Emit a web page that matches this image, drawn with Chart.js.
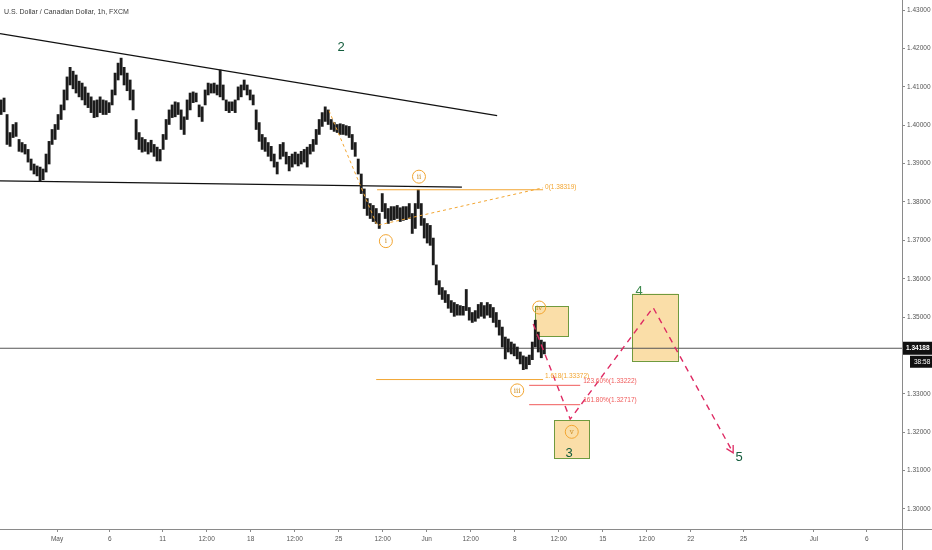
<!DOCTYPE html>
<html>
<head>
<meta charset="utf-8">
<title>USDCAD 1h</title>
<script src="https://cdn.jsdelivr.net/npm/chart.js@4/dist/chart.umd.min.js"></script>
<style>
  html, body { margin: 0; padding: 0; background: #fff; }
</style>
</head>
<body>
<canvas id="usdcad" width="932" height="550"></canvas>
<script>
// x unit = trading days counted from Fri May 1 00:00 (weekends skipped, like TradingView)
const xTickDays   = [0, 3, 6, 8.5, 11, 13.5, 16, 18.5, 21, 23.5, 26, 28.5, 31, 33.5, 36, 39, 43, 46];
const xTickLabels = ['May', '6', '11', '12:00', '18', '12:00', '25', '12:00', 'Jun', '12:00', '8', '12:00', '15', '12:00', '22', '25', 'Jul', '6'];
const yTicks = [1.30, 1.31, 1.32, 1.33, 1.35, 1.36, 1.37, 1.38, 1.39, 1.40, 1.41, 1.42, 1.43];

// price bars, roughly 4h apart
const barStartDay = -3.18;
const barStep = 0.1705;
const barHigh = [
  1.4066, 1.4071, 1.4028, 1.3981, 1.4002, 1.4007, 1.3963, 1.3955, 1.3950, 1.3937,
  1.3912, 1.3899, 1.3894, 1.3891, 1.3886, 1.3925, 1.3958, 1.3989, 1.4002, 1.4028,
  1.4053, 1.4092, 1.4126, 1.4151, 1.4141, 1.4131, 1.4115, 1.4110, 1.4100, 1.4084,
  1.4074, 1.4064, 1.4066, 1.4074, 1.4066, 1.4064, 1.4059, 1.4092, 1.4136, 1.4162,
  1.4175, 1.4151, 1.4136, 1.4118, 1.4092, 1.4015, 1.3981, 1.3968, 1.3963, 1.3955,
  1.3961, 1.3950, 1.3943, 1.3937, 1.3976, 1.4015, 1.4040, 1.4053, 1.4061, 1.4059,
  1.4040, 1.4022, 1.4066, 1.4084, 1.4087, 1.4084, 1.4053, 1.4048, 1.4092, 1.4110,
  1.4108, 1.4110, 1.4105, 1.4144, 1.4105, 1.4066, 1.4061, 1.4061, 1.4066, 1.4100,
  1.4105, 1.4118, 1.4105, 1.4092, 1.4079, 1.4040, 1.4007, 1.3976, 1.3968, 1.3955,
  1.3945, 1.3925, 1.3904, 1.3950, 1.3955, 1.3930, 1.3919, 1.3925, 1.3930, 1.3925,
  1.3932, 1.3937, 1.3943, 1.3950, 1.3963, 1.3989, 1.4015, 1.4033, 1.4048, 1.4040,
  1.4015, 1.4007, 1.4002, 1.4004, 1.4002, 1.3999, 1.3997, 1.3976, 1.3955, 1.3912,
  1.3873, 1.3834, 1.3809, 1.3796, 1.3791, 1.3783, 1.3770, 1.3822, 1.3796, 1.3783,
  1.3788, 1.3788, 1.3791, 1.3785, 1.3788, 1.3788, 1.3796, 1.3770, 1.3796, 1.3832,
  1.3796, 1.3757, 1.3744, 1.3739, 1.3706, 1.3636, 1.3595, 1.3577, 1.3569, 1.3559,
  1.3543, 1.3538, 1.3533, 1.3530, 1.3528, 1.3572, 1.3525, 1.3512, 1.3517, 1.3533,
  1.3538, 1.3530, 1.3538, 1.3533, 1.3525, 1.3512, 1.3492, 1.3474, 1.3448, 1.3443,
  1.3435, 1.3430, 1.3422, 1.3409, 1.3399, 1.3396, 1.3401, 1.3435, 1.3492, 1.3461,
  1.3440, 1.3435
];
const barLow = [
  1.4028, 1.4035, 1.3950, 1.3945, 1.3968, 1.3971, 1.3932, 1.3930, 1.3925, 1.3904,
  1.3883, 1.3873, 1.3868, 1.3855, 1.3858, 1.3878, 1.3899, 1.3950, 1.3963, 1.3989,
  1.4015, 1.4040, 1.4066, 1.4105, 1.4095, 1.4084, 1.4074, 1.4066, 1.4053, 1.4046,
  1.4033, 1.4020, 1.4022, 1.4033, 1.4028, 1.4028, 1.4033, 1.4053, 1.4079, 1.4118,
  1.4131, 1.4105, 1.4090, 1.4066, 1.4040, 1.3963, 1.3937, 1.3930, 1.3932, 1.3925,
  1.3930, 1.3919, 1.3907, 1.3907, 1.3937, 1.3963, 1.4002, 1.4020, 1.4022, 1.4028,
  1.3989, 1.3976, 1.4015, 1.4040, 1.4059, 1.4061, 1.4022, 1.4010, 1.4053, 1.4079,
  1.4084, 1.4084, 1.4079, 1.4074, 1.4066, 1.4038, 1.4033, 1.4038, 1.4033, 1.4066,
  1.4074, 1.4092, 1.4079, 1.4066, 1.4053, 1.3989, 1.3958, 1.3937, 1.3932, 1.3919,
  1.3907, 1.3891, 1.3873, 1.3912, 1.3919, 1.3899, 1.3881, 1.3891, 1.3899, 1.3894,
  1.3899, 1.3904, 1.3891, 1.3925, 1.3932, 1.3950, 1.3976, 1.3997, 1.4010, 1.4002,
  1.3989, 1.3984, 1.3981, 1.3976, 1.3976, 1.3974, 1.3968, 1.3937, 1.3919, 1.3873,
  1.3822, 1.3783, 1.3765, 1.3757, 1.3749, 1.3744, 1.3731, 1.3775, 1.3757, 1.3744,
  1.3752, 1.3754, 1.3757, 1.3749, 1.3752, 1.3754, 1.3757, 1.3718, 1.3731, 1.3783,
  1.3739, 1.3706, 1.3693, 1.3687, 1.3636, 1.3584, 1.3559, 1.3546, 1.3538, 1.3523,
  1.3512, 1.3502, 1.3505, 1.3505, 1.3505, 1.3517, 1.3492, 1.3486, 1.3489, 1.3497,
  1.3502, 1.3497, 1.3505, 1.3499, 1.3486, 1.3474, 1.3453, 1.3422, 1.3391, 1.3409,
  1.3404, 1.3399, 1.3391, 1.3378, 1.3363, 1.3365, 1.3376, 1.3389, 1.3422, 1.3409,
  1.3394, 1.3404
];
const lastPrice = 1.34188;
const countdown = '38:58';

// drawings, in (trading day, price)
const resistanceLine = [{ x: -3.24, y: 1.4239 }, { x: 25.0, y: 1.4025 }];
const supportLine    = [{ x: -3.24, y: 1.3855 }, { x: 23.0, y: 1.3839 }];
const fibAnchors     = [{ x: 15.45, y: 1.4038 }, { x: 18.18, y: 1.3739 }, { x: 27.61, y: 1.3837 }];
const fibOrange = [
  { price: 1.38319, from: 18.18, to: 27.61, text: '0(1.38319)' },
  { price: 1.33372, from: 18.13, to: 27.61, text: '1.618(1.33372)' }
];
const fibRed = [
  { price: 1.33222, from: 26.82, to: 29.72, text: '123.60%(1.33222)' },
  { price: 1.32717, from: 26.82, to: 29.72, text: '161.80%(1.32717)' }
];
const projectedPath = [
  { x: 27.05, y: 1.3482 }, { x: 29.15, y: 1.3234 }, { x: 33.86, y: 1.3525 }, { x: 38.41, y: 1.3146 }
];
const targetBoxes = [
  { from: 27.16, to: 29.03, top: 1.3528, bottom: 1.3450 },
  { from: 28.24, to: 30.23, top: 1.3231, bottom: 1.3133 },
  { from: 32.67, to: 35.28, top: 1.3561, bottom: 1.3386 }
];
const minorWaves = [
  { x: 18.68, y: 1.3698, text: 'i' },
  { x: 20.56, y: 1.3866, text: 'ii' },
  { x: 26.14, y: 1.3309, text: 'iii' },
  { x: 27.39, y: 1.3525, text: 'iv' },
  { x: 29.24, y: 1.3201, text: 'v' }
];
const majorWaves = [
  { x: 16.14, y: 1.4203, text: '2' },
  { x: 29.09, y: 1.3144, text: '3' },
  { x: 33.07, y: 1.3566, text: '4' },
  { x: 38.75, y: 1.3133, text: '5' }
];

const ORANGE = '#f2a531';
const RED = '#f05a5a';
const PINK = '#de2a63';
const FONT = '"Liberation Sans", Arial, sans-serif';

const candles = barHigh.map((h, i) => ({ x: barStartDay + i * barStep, y: [barLow[i], h] }));

function hLine(item, color) {
  return {
    type: 'line',
    data: [{ x: item.from, y: item.price }, { x: item.to, y: item.price }],
    borderColor: color, borderWidth: 1, pointRadius: 0, fill: false, order: 0
  };
}

const overlay = {
  id: 'overlay',
  beforeDatasetsDraw(chart) {
    const { ctx, scales: { x, y } } = chart;
    ctx.save();
    targetBoxes.forEach(b => {
      const l = x.getPixelForValue(b.from), r = x.getPixelForValue(b.to);
      const t = y.getPixelForValue(b.top), btm = y.getPixelForValue(b.bottom);
      ctx.fillStyle = 'rgba(246, 190, 82, 0.5)';
      ctx.fillRect(l, t, r - l, btm - t);
      ctx.strokeStyle = '#6f9a3e';
      ctx.lineWidth = 1;
      ctx.strokeRect(Math.round(l) + 0.5, Math.round(t) + 0.5, Math.round(r - l), Math.round(btm - t));
    });
    ctx.restore();
  },
  afterDatasetsDraw(chart) {
    const { ctx, scales: { x, y } } = chart;
    ctx.save();

    // fib labels
    ctx.font = '6.5px ' + FONT;
    ctx.textAlign = 'left';
    ctx.textBaseline = 'middle';
    fibOrange.forEach(f => {
      ctx.fillStyle = ORANGE;
      ctx.fillText(f.text, x.getPixelForValue(f.to) + 2, y.getPixelForValue(f.price) - 3);
    });
    fibRed.forEach(f => {
      ctx.fillStyle = RED;
      ctx.fillText(f.text, x.getPixelForValue(f.to) + 3, y.getPixelForValue(f.price) - 4);
    });

    // arrow head at the end of the projected path
    const n = projectedPath.length;
    const ex = x.getPixelForValue(projectedPath[n - 1].x), ey = y.getPixelForValue(projectedPath[n - 1].y);
    const sx = x.getPixelForValue(projectedPath[n - 2].x), sy = y.getPixelForValue(projectedPath[n - 2].y);
    const ang = Math.atan2(ey - sy, ex - sx);
    ctx.strokeStyle = PINK;
    ctx.lineWidth = 1.3;
    ctx.beginPath();
    ctx.moveTo(ex - 8 * Math.cos(ang - 0.5), ey - 8 * Math.sin(ang - 0.5));
    ctx.lineTo(ex, ey);
    ctx.lineTo(ex - 8 * Math.cos(ang + 0.5), ey - 8 * Math.sin(ang + 0.5));
    ctx.stroke();

    // circled minor wave labels
    minorWaves.forEach(w => {
      const px = x.getPixelForValue(w.x), py = y.getPixelForValue(w.y);
      ctx.beginPath();
      ctx.arc(px, py, 6.5, 0, Math.PI * 2);
      ctx.strokeStyle = ORANGE;
      ctx.lineWidth = 1;
      ctx.stroke();
      ctx.fillStyle = '#c98a1e';
      ctx.font = '7px "DejaVu Serif", serif';
      ctx.textAlign = 'center';
      ctx.textBaseline = 'middle';
      ctx.fillText(w.text, px, py + 0.5);
    });

    // major wave numbers
    ctx.font = '13px ' + FONT;
    ctx.textAlign = 'center';
    ctx.textBaseline = 'middle';
    majorWaves.forEach(w => {
      ctx.fillStyle = w.text === '4' ? '#3f8a4e' : '#135c3c';
      ctx.fillText(w.text, x.getPixelForValue(w.x), y.getPixelForValue(w.y));
    });
    ctx.restore();
  },
  afterDraw(chart) {
    const { ctx, chartArea: a, scales: { y } } = chart;
    const W = chart.width, H = chart.height;
    ctx.save();

    // frame lines run across the whole canvas like TradingView
    ctx.strokeStyle = '#8a8a8a';
    ctx.lineWidth = 1;
    ctx.beginPath();
    ctx.moveTo(0, Math.round(a.bottom) + 0.5);
    ctx.lineTo(W, Math.round(a.bottom) + 0.5);
    ctx.moveTo(Math.round(a.right) + 0.5, 0);
    ctx.lineTo(Math.round(a.right) + 0.5, H);
    ctx.stroke();

    // title
    ctx.fillStyle = '#3a3a3a';
    ctx.font = '7px ' + FONT;
    ctx.textAlign = 'left';
    ctx.textBaseline = 'middle';
    ctx.fillText('U.S. Dollar / Canadian Dollar, 1h, FXCM', 4, 12);

    // last price tag and bar countdown
    const py = y.getPixelForValue(lastPrice);
    ctx.fillStyle = '#111';
    ctx.fillRect(a.right + 1, py - 6.5, W - a.right - 1, 13);
    ctx.fillRect(a.right + 8, py + 7.5, W - a.right - 8, 12);
    ctx.fillStyle = '#fff';
    ctx.font = 'bold 6.5px ' + FONT;
    ctx.fillText(lastPrice.toFixed(5), a.right + 4, py);
    ctx.font = '6.5px ' + FONT;
    ctx.fillText(countdown, a.right + 12, py + 13.5);
    ctx.restore();
  }
};

new Chart(document.getElementById('usdcad'), {
  type: 'bar',
  data: {
    datasets: [
      {
        label: 'USDCAD', data: candles, backgroundColor: '#1c1c1c',
        barThickness: 2.2, grouped: false, order: 1
      },
      { type: 'line', data: resistanceLine, borderColor: '#111', borderWidth: 1.2, pointRadius: 0, order: 2 },
      { type: 'line', data: supportLine, borderColor: '#111', borderWidth: 1.2, pointRadius: 0, order: 2 },
      {
        type: 'line', data: [{ x: -3.24, y: lastPrice }, { x: 48, y: lastPrice }],
        borderColor: '#555', borderWidth: 1, pointRadius: 0, order: 3
      },
      {
        type: 'line', data: fibAnchors, borderColor: ORANGE, borderWidth: 1,
        borderDash: [3, 3], pointRadius: 0, order: 0
      },
      hLine(fibOrange[0], ORANGE),
      hLine(fibOrange[1], ORANGE),
      hLine(fibRed[0], RED),
      hLine(fibRed[1], RED),
      {
        type: 'line', data: projectedPath, borderColor: PINK, borderWidth: 1.4,
        borderDash: [6, 5], pointRadius: 0, order: 0
      }
    ]
  },
  options: {
    responsive: false,
    animation: false,
    layout: { padding: 0 },
    plugins: { legend: { display: false }, tooltip: { enabled: false } },
    scales: {
      x: {
        type: 'linear', min: -3.24, max: 48.0, offset: false,
        afterFit: s => { s.height = 21; },
        afterBuildTicks: s => { s.ticks = xTickDays.map(v => ({ value: v })); },
        grid: { offset: false, drawOnChartArea: false, drawTicks: true, tickLength: 3, color: '#8a8a8a' },
        border: { display: false },
        ticks: {
          autoSkip: false, maxRotation: 0, padding: 3, color: '#555',
          font: { size: 6.5, family: FONT },
          callback: (v, i) => xTickLabels[i]
        }
      },
      y: {
        type: 'linear', position: 'right', min: 1.29477, max: 1.43111,
        afterFit: s => { s.width = 30; },
        afterBuildTicks: s => { s.ticks = yTicks.map(v => ({ value: v })); },
        grid: { drawOnChartArea: false, drawTicks: true, tickLength: 3, color: '#8a8a8a' },
        border: { display: false },
        ticks: {
          padding: 2, color: '#555',
          font: { size: 6.5, family: FONT },
          callback: v => v.toFixed(5)
        }
      }
    }
  },
  plugins: [overlay]
});
</script>
</body>
</html>
